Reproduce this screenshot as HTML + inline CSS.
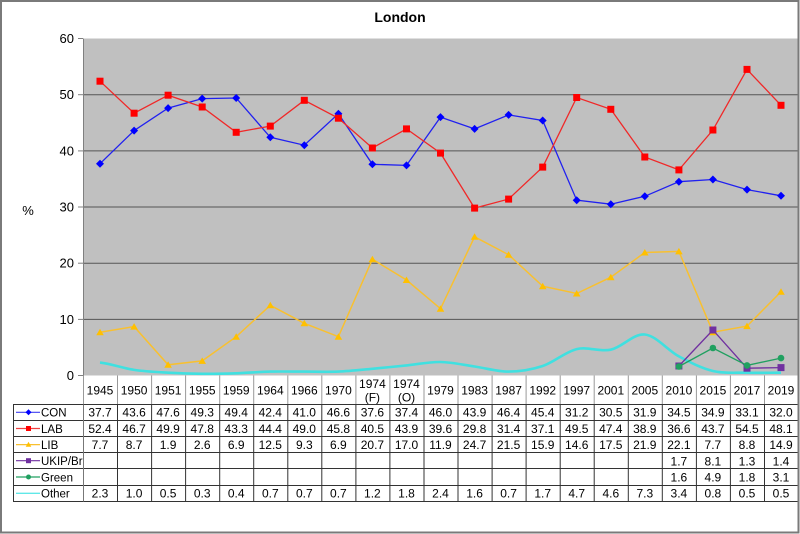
<!DOCTYPE html>
<html><head><meta charset="utf-8"><style>
html,body{margin:0;padding:0;background:#fff;}
svg{display:block;font-family:"Liberation Sans",Arial,sans-serif;}
</style></head><body>
<svg width="800" height="534" viewBox="0 0 800 534" xmlns="http://www.w3.org/2000/svg">
<defs>
<marker id="mD" markerUnits="userSpaceOnUse" markerWidth="12" markerHeight="12" refX="6" refY="6" overflow="visible"><path d="M6,2 L10,6 L6,10 L2,6 Z" fill="#0000ff"/></marker>
<marker id="mS" markerUnits="userSpaceOnUse" markerWidth="12" markerHeight="12" refX="6" refY="6" overflow="visible"><rect x="2.5" y="2.5" width="7" height="7" fill="#ff0000"/></marker>
<marker id="mT" markerUnits="userSpaceOnUse" markerWidth="12" markerHeight="12" refX="6" refY="6" overflow="visible"><path d="M6,2.5 L9.8,9 L2.2,9 Z" fill="#ffc000"/></marker>
<marker id="mP" markerUnits="userSpaceOnUse" markerWidth="12" markerHeight="12" refX="6" refY="6" overflow="visible"><rect x="2.5" y="2.5" width="7" height="7" fill="#7030a0"/></marker>
<marker id="mG" markerUnits="userSpaceOnUse" markerWidth="12" markerHeight="12" refX="6" refY="6" overflow="visible"><circle cx="6" cy="6" r="3.3" fill="#20a060"/></marker>
</defs>
<rect x="0" y="0" width="800" height="534" fill="#fff"/>
<text x="400" y="22" text-anchor="middle" font-size="14" font-weight="bold" fill="#000">London</text>
<rect x="83" y="38.5" width="715" height="337" fill="#c0c0c0"/>
<g stroke="#555" stroke-width="1">
<line x1="83" y1="94.7" x2="798" y2="94.7"/>
<line x1="83" y1="150.9" x2="798" y2="150.9"/>
<line x1="83" y1="207" x2="798" y2="207"/>
<line x1="83" y1="263.2" x2="798" y2="263.2"/>
<line x1="83" y1="319.4" x2="798" y2="319.4"/>
</g>
<g stroke="#808080" stroke-width="1">
<line x1="83.5" y1="38.5" x2="83.5" y2="375.5"/>
<line x1="78" y1="38.5" x2="83" y2="38.5"/>
<line x1="78" y1="94.7" x2="83" y2="94.7"/>
<line x1="78" y1="150.9" x2="83" y2="150.9"/>
<line x1="78" y1="207" x2="83" y2="207"/>
<line x1="78" y1="263.2" x2="83" y2="263.2"/>
<line x1="78" y1="319.4" x2="83" y2="319.4"/>
<line x1="78" y1="375.5" x2="83" y2="375.5"/>
</g>
<g font-size="13" fill="#000" text-anchor="end">
<text x="74" y="43">60</text>
<text x="74" y="99.2">50</text>
<text x="74" y="155.4">40</text>
<text x="74" y="211.5">30</text>
<text x="74" y="267.7">20</text>
<text x="74" y="323.9">10</text>
<text x="74" y="380">0</text>
</g>
<text x="28" y="215" font-size="13" text-anchor="middle" fill="#000">%</text>

<path d="M100,362.6 C111.35,363.82 122.75,368.22 134.1,369.9 C145.45,371.58 156.75,372.05 168.1,372.7 C179.45,373.35 190.85,373.7 202.2,373.8 C213.55,373.9 224.85,373.67 236.2,373.3 C247.55,372.93 258.95,371.88 270.3,371.6 C281.65,371.32 292.95,371.6 304.3,371.6 C315.65,371.6 327.05,372.07 338.4,371.6 C349.75,371.13 361.05,369.83 372.4,368.8 C383.75,367.77 395.15,366.53 406.5,365.4 C417.85,364.27 429.15,361.82 440.5,362 C451.85,362.18 463.25,364.9 474.6,366.5 C485.95,368.1 497.25,371.68 508.6,371.6 C519.95,371.52 531.35,369.75 542.7,366 C554.05,362.25 565.35,351.82 576.7,349.1 C588.05,346.38 599.45,352.13 610.8,349.7 C622.15,347.27 633.45,333.38 644.8,334.5 C656.15,335.62 667.55,350.32 678.9,356.4 C690.25,362.48 701.55,368.28 712.9,371 C724.25,373.72 735.65,372.42 747,372.7 C758.35,372.98 769.65,372.7 781,372.7" fill="none" stroke="#40e0e0" stroke-width="2.6"/>
<polyline fill="none" stroke="#2020f0" stroke-width="1.3" marker-start="url(#mD)" marker-mid="url(#mD)" marker-end="url(#mD)" points="100,163.7 134.1,130.6 168.1,108.1 202.2,98.6 236.2,98.0 270.3,137.3 304.3,145.2 338.4,113.7 372.4,164.3 406.5,165.4 440.5,117.1 474.6,128.9 508.6,114.9 542.7,120.5 576.7,200.2 610.8,204.2 644.8,196.3 678.9,181.7 712.9,179.5 747.0,189.6 781.0,195.8"/>
<polyline fill="none" stroke="#f02828" stroke-width="1.3" marker-start="url(#mS)" marker-mid="url(#mS)" marker-end="url(#mS)" points="100,81.2 134.1,113.2 168.1,95.2 202.2,107.0 236.2,132.3 270.3,126.1 304.3,100.3 338.4,118.2 372.4,148.0 406.5,128.9 440.5,153.1 474.6,208.1 508.6,199.1 542.7,167.1 576.7,97.5 610.8,109.3 644.8,157.0 678.9,169.9 712.9,130.0 747.0,69.4 781.0,105.3"/>
<polyline fill="none" stroke="#f8c030" stroke-width="1.5" marker-start="url(#mT)" marker-mid="url(#mT)" marker-end="url(#mT)" points="100,332.2 134.1,326.6 168.1,364.8 202.2,360.9 236.2,336.7 270.3,305.3 304.3,323.3 338.4,336.7 372.4,259.2 406.5,280.0 440.5,308.7 474.6,236.8 508.6,254.7 542.7,286.2 576.7,293.5 610.8,277.2 644.8,252.5 678.9,251.4 712.9,332.2 747.0,326.1 781.0,291.8"/>
<polyline fill="none" stroke="#7030a0" stroke-width="1.3" marker-start="url(#mP)" marker-mid="url(#mP)" marker-end="url(#mP)" points="678.9,366.0 712.9,330.0 747.0,368.2 781.0,367.6"/>
<polyline fill="none" stroke="#20a060" stroke-width="1.3" marker-start="url(#mG)" marker-mid="url(#mG)" marker-end="url(#mG)" points="678.9,366.5 712.9,348.0 747.0,365.4 781.0,358.1"/>

<!-- header verticals (lighter) -->
<g stroke="#999" stroke-width="1">
<line x1="83.5" y1="375.5" x2="83.5" y2="404.5"/>
<line x1="117.5" y1="375.5" x2="117.5" y2="404.5"/>
<line x1="151.6" y1="375.5" x2="151.6" y2="404.5"/>
<line x1="185.6" y1="375.5" x2="185.6" y2="404.5"/>
<line x1="219.7" y1="375.5" x2="219.7" y2="404.5"/>
<line x1="253.7" y1="375.5" x2="253.7" y2="404.5"/>
<line x1="287.8" y1="375.5" x2="287.8" y2="404.5"/>
<line x1="321.8" y1="375.5" x2="321.8" y2="404.5"/>
<line x1="355.9" y1="375.5" x2="355.9" y2="404.5"/>
<line x1="389.9" y1="375.5" x2="389.9" y2="404.5"/>
<line x1="424.0" y1="375.5" x2="424.0" y2="404.5"/>
<line x1="458.0" y1="375.5" x2="458.0" y2="404.5"/>
<line x1="492.1" y1="375.5" x2="492.1" y2="404.5"/>
<line x1="526.1" y1="375.5" x2="526.1" y2="404.5"/>
<line x1="560.2" y1="375.5" x2="560.2" y2="404.5"/>
<line x1="594.2" y1="375.5" x2="594.2" y2="404.5"/>
<line x1="628.3" y1="375.5" x2="628.3" y2="404.5"/>
<line x1="662.3" y1="375.5" x2="662.3" y2="404.5"/>
<line x1="696.4" y1="375.5" x2="696.4" y2="404.5"/>
<line x1="730.4" y1="375.5" x2="730.4" y2="404.5"/>
<line x1="764.5" y1="375.5" x2="764.5" y2="404.5"/>
</g>
<g stroke="#333" stroke-width="1">
<line x1="13" y1="404.5" x2="798" y2="404.5"/>
<line x1="13" y1="420.5" x2="798" y2="420.5"/>
<line x1="13" y1="436.5" x2="798" y2="436.5"/>
<line x1="13" y1="452.5" x2="798" y2="452.5"/>
<line x1="13" y1="468.5" x2="798" y2="468.5"/>
<line x1="13" y1="485.5" x2="798" y2="485.5"/>
<line x1="13" y1="501.5" x2="798" y2="501.5"/>
<line x1="13.5" y1="404.5" x2="13.5" y2="501.5"/>
<line x1="83.5" y1="404.5" x2="83.5" y2="501.5" stroke="#777"/>
<line x1="117.5" y1="404.5" x2="117.5" y2="501.5"/>
<line x1="151.6" y1="404.5" x2="151.6" y2="501.5"/>
<line x1="185.6" y1="404.5" x2="185.6" y2="501.5"/>
<line x1="219.7" y1="404.5" x2="219.7" y2="501.5"/>
<line x1="253.7" y1="404.5" x2="253.7" y2="501.5"/>
<line x1="287.8" y1="404.5" x2="287.8" y2="501.5"/>
<line x1="321.8" y1="404.5" x2="321.8" y2="501.5"/>
<line x1="355.9" y1="404.5" x2="355.9" y2="501.5"/>
<line x1="389.9" y1="404.5" x2="389.9" y2="501.5"/>
<line x1="424.0" y1="404.5" x2="424.0" y2="501.5"/>
<line x1="458.0" y1="404.5" x2="458.0" y2="501.5"/>
<line x1="492.1" y1="404.5" x2="492.1" y2="501.5"/>
<line x1="526.1" y1="404.5" x2="526.1" y2="501.5"/>
<line x1="560.2" y1="404.5" x2="560.2" y2="501.5"/>
<line x1="594.2" y1="404.5" x2="594.2" y2="501.5"/>
<line x1="628.3" y1="404.5" x2="628.3" y2="501.5"/>
<line x1="662.3" y1="404.5" x2="662.3" y2="501.5"/>
<line x1="696.4" y1="404.5" x2="696.4" y2="501.5"/>
<line x1="730.4" y1="404.5" x2="730.4" y2="501.5"/>
<line x1="764.5" y1="404.5" x2="764.5" y2="501.5"/>
</g>

<!-- legend -->
<line x1="16" y1="412.3" x2="40" y2="412.3" stroke="#4040f0" stroke-width="1.2"/>
<path d="M28.5,409.3 L31.5,412.3 L28.5,415.3 L25.5,412.3 Z" fill="#0000ff"/>
<line x1="16" y1="428.5" x2="40" y2="428.5" stroke="#f04040" stroke-width="1.2"/>
<rect x="26" y="426" width="5" height="5" fill="#ff0000"/>
<line x1="16" y1="444.6" x2="40" y2="444.6" stroke="#f8c030" stroke-width="1.2"/>
<path d="M28.5,441.8 L31.3,446.8 L25.7,446.8 Z" fill="#ffc000"/>
<line x1="16" y1="460.7" x2="40" y2="460.7" stroke="#7030a0" stroke-width="1.2"/>
<rect x="26" y="458.2" width="5" height="5" fill="#7030a0"/>
<line x1="16" y1="477" x2="40" y2="477" stroke="#20a060" stroke-width="1.2"/>
<circle cx="28.5" cy="477" r="2.5" fill="#20a060"/>
<line x1="16" y1="493.3" x2="40" y2="493.3" stroke="#60e8e8" stroke-width="1.3"/>
<g font-size="11.5" fill="#000">
<text x="41" y="416.6">CON</text>
<text x="41" y="432.8">LAB</text>
<text x="41" y="448.9">LIB</text>
<text x="41" y="465">UKIP/Br</text>
<text x="41" y="481.3">Green</text>
<text x="41" y="497.6">Other</text>
</g>

<g font-size="12" fill="#000" text-anchor="middle">
<text x="100" y="394.5">1945</text><text x="134.1" y="394.5">1950</text><text x="168.1" y="394.5">1951</text><text x="202.2" y="394.5">1955</text><text x="236.2" y="394.5">1959</text><text x="270.3" y="394.5">1964</text><text x="304.3" y="394.5">1966</text><text x="338.4" y="394.5">1970</text>
<text x="372.4" y="388">1974</text><text x="372.4" y="401.3">(F)</text>
<text x="406.5" y="388">1974</text><text x="406.5" y="401.3">(O)</text>
<text x="440.5" y="394.5">1979</text><text x="474.6" y="394.5">1983</text><text x="508.6" y="394.5">1987</text><text x="542.7" y="394.5">1992</text><text x="576.7" y="394.5">1997</text><text x="610.8" y="394.5">2001</text><text x="644.8" y="394.5">2005</text><text x="678.9" y="394.5">2010</text><text x="712.9" y="394.5">2015</text><text x="747" y="394.5">2017</text><text x="781" y="394.5">2019</text>
<text x="100" y="416.7">37.7</text><text x="134.1" y="416.7">43.6</text><text x="168.1" y="416.7">47.6</text><text x="202.2" y="416.7">49.3</text><text x="236.2" y="416.7">49.4</text><text x="270.3" y="416.7">42.4</text><text x="304.3" y="416.7">41.0</text><text x="338.4" y="416.7">46.6</text><text x="372.4" y="416.7">37.6</text><text x="406.5" y="416.7">37.4</text><text x="440.5" y="416.7">46.0</text><text x="474.6" y="416.7">43.9</text><text x="508.6" y="416.7">46.4</text><text x="542.7" y="416.7">45.4</text><text x="576.7" y="416.7">31.2</text><text x="610.8" y="416.7">30.5</text><text x="644.8" y="416.7">31.9</text><text x="678.9" y="416.7">34.5</text><text x="712.9" y="416.7">34.9</text><text x="747" y="416.7">33.1</text><text x="781" y="416.7">32.0</text>
<text x="100" y="432.9">52.4</text><text x="134.1" y="432.9">46.7</text><text x="168.1" y="432.9">49.9</text><text x="202.2" y="432.9">47.8</text><text x="236.2" y="432.9">43.3</text><text x="270.3" y="432.9">44.4</text><text x="304.3" y="432.9">49.0</text><text x="338.4" y="432.9">45.8</text><text x="372.4" y="432.9">40.5</text><text x="406.5" y="432.9">43.9</text><text x="440.5" y="432.9">39.6</text><text x="474.6" y="432.9">29.8</text><text x="508.6" y="432.9">31.4</text><text x="542.7" y="432.9">37.1</text><text x="576.7" y="432.9">49.5</text><text x="610.8" y="432.9">47.4</text><text x="644.8" y="432.9">38.9</text><text x="678.9" y="432.9">36.6</text><text x="712.9" y="432.9">43.7</text><text x="747" y="432.9">54.5</text><text x="781" y="432.9">48.1</text>
<text x="100" y="449.1">7.7</text><text x="134.1" y="449.1">8.7</text><text x="168.1" y="449.1">1.9</text><text x="202.2" y="449.1">2.6</text><text x="236.2" y="449.1">6.9</text><text x="270.3" y="449.1">12.5</text><text x="304.3" y="449.1">9.3</text><text x="338.4" y="449.1">6.9</text><text x="372.4" y="449.1">20.7</text><text x="406.5" y="449.1">17.0</text><text x="440.5" y="449.1">11.9</text><text x="474.6" y="449.1">24.7</text><text x="508.6" y="449.1">21.5</text><text x="542.7" y="449.1">15.9</text><text x="576.7" y="449.1">14.6</text><text x="610.8" y="449.1">17.5</text><text x="644.8" y="449.1">21.9</text><text x="678.9" y="449.1">22.1</text><text x="712.9" y="449.1">7.7</text><text x="747" y="449.1">8.8</text><text x="781" y="449.1">14.9</text>
<text x="678.9" y="465.3">1.7</text><text x="712.9" y="465.3">8.1</text><text x="747" y="465.3">1.3</text><text x="781" y="465.3">1.4</text>
<text x="678.9" y="481.5">1.6</text><text x="712.9" y="481.5">4.9</text><text x="747" y="481.5">1.8</text><text x="781" y="481.5">3.1</text>
<text x="100" y="497.7">2.3</text><text x="134.1" y="497.7">1.0</text><text x="168.1" y="497.7">0.5</text><text x="202.2" y="497.7">0.3</text><text x="236.2" y="497.7">0.4</text><text x="270.3" y="497.7">0.7</text><text x="304.3" y="497.7">0.7</text><text x="338.4" y="497.7">0.7</text><text x="372.4" y="497.7">1.2</text><text x="406.5" y="497.7">1.8</text><text x="440.5" y="497.7">2.4</text><text x="474.6" y="497.7">1.6</text><text x="508.6" y="497.7">0.7</text><text x="542.7" y="497.7">1.7</text><text x="576.7" y="497.7">4.7</text><text x="610.8" y="497.7">4.6</text><text x="644.8" y="497.7">7.3</text><text x="678.9" y="497.7">3.4</text><text x="712.9" y="497.7">0.8</text><text x="747" y="497.7">0.5</text><text x="781" y="497.7">0.5</text>
</g>

<rect x="1" y="1" width="797.5" height="531.5" fill="none" stroke="#7a7a7a" stroke-width="2"/>
</svg>
</body></html>
